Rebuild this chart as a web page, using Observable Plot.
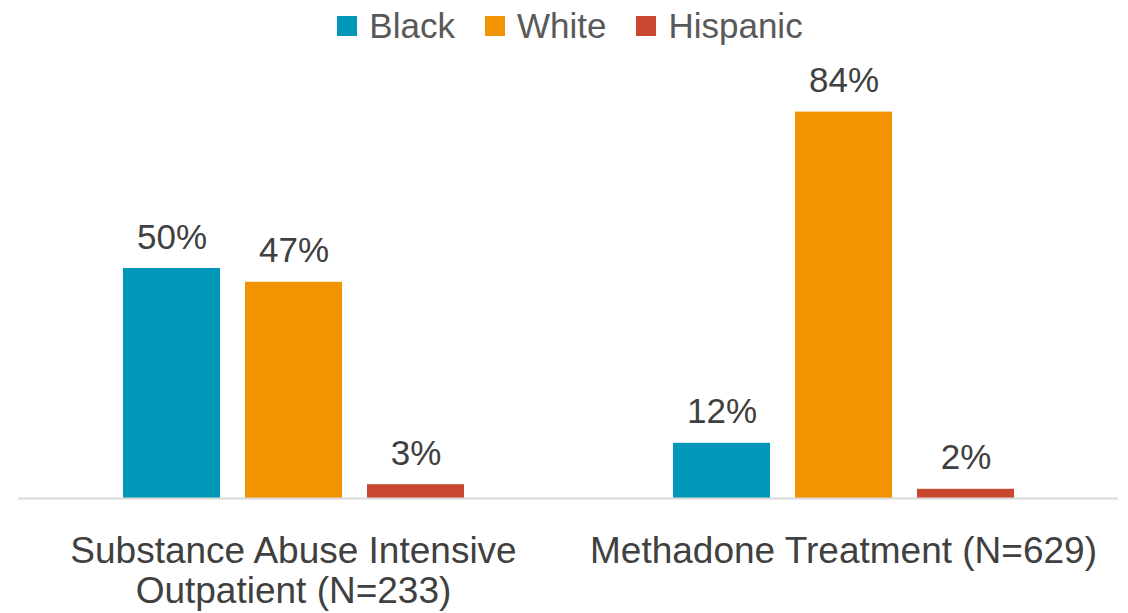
<!DOCTYPE html>
<html>
<head>
<meta charset="utf-8">
<script src="https://cdn.jsdelivr.net/npm/d3@7"></script>
<script src="https://cdn.jsdelivr.net/npm/@observablehq/plot@0.6"></script>
<style>
  html, body { margin: 0; padding: 0; background: #fff; }
  body { width: 1128px; height: 613px; overflow: hidden; font-family: "Liberation Sans", Arial, sans-serif; }
  #legend { height: 52px; display: flex; justify-content: center; align-items: center; padding-left: 12px; box-sizing: border-box; }
  .item { display: flex; align-items: center; margin: 0 15px; font-size: 35px; color: #595959; }
  .sw { width: 20px; height: 20px; margin-right: 12px; }
</style>
</head>
<body>
<div id="legend"></div>
<div id="chart"></div>
<script>
const categories = ["Substance Abuse Intensive\nOutpatient (N=233)", "Methadone Treatment (N=629)"];
const races = ["Black", "White", "Hispanic"];
const blackValues = [50, 12];
const whiteValues = [47, 84];
const hispanicValues = [3, 2];
const colors = ["#0097B8", "#F29400", "#C9462F"];

const seriesValues = [blackValues, whiteValues, hispanicValues];
const rows = [];
categories.forEach((cat, i) => {
  races.forEach((race, j) => {
    rows.push({cat, race, value: seriesValues[j][i]});
  });
});

const legend = document.getElementById("legend");
races.forEach((r, i) => {
  const it = document.createElement("div");
  it.className = "item";
  const sw = document.createElement("div");
  sw.className = "sw";
  sw.style.background = colors[i];
  const t = document.createElement("span");
  t.textContent = r;
  it.appendChild(sw); it.appendChild(t);
  legend.appendChild(it);
});

const chart = Plot.plot({
  width: 1128,
  height: 561,
  marginLeft: 18,
  marginRight: 10,
  marginTop: 32,
  marginBottom: 115,
  style: {fontFamily: "'Liberation Sans', Arial, sans-serif", background: "#fff"},
  fx: {domain: categories, padding: 0, label: null, axis: null},
  x: {domain: races, axis: null, paddingInner: 0.205, paddingOuter: 0.855},
  y: {domain: [0, 90], axis: null},
  color: {domain: races, range: colors},
  marks: [
    Plot.barY(rows, {fx: "cat", x: "race", y: "value", fill: "race"}),
    Plot.ruleY([0], {stroke: "#d9d9d9", strokeWidth: 2}),
    Plot.text(rows, {fx: "cat", x: "race", y: "value", text: d => d.value + "%", dy: -20, lineAnchor: "bottom", fontSize: 35, fill: "#404040"}),
    Plot.axisFx({anchor: "bottom", tickSize: 0, tickPadding: 36, fontSize: 37, lineHeight: 1.08, label: null, fill: "#404040"})
  ]
});
document.getElementById("chart").appendChild(chart);
</script>
</body>
</html>
